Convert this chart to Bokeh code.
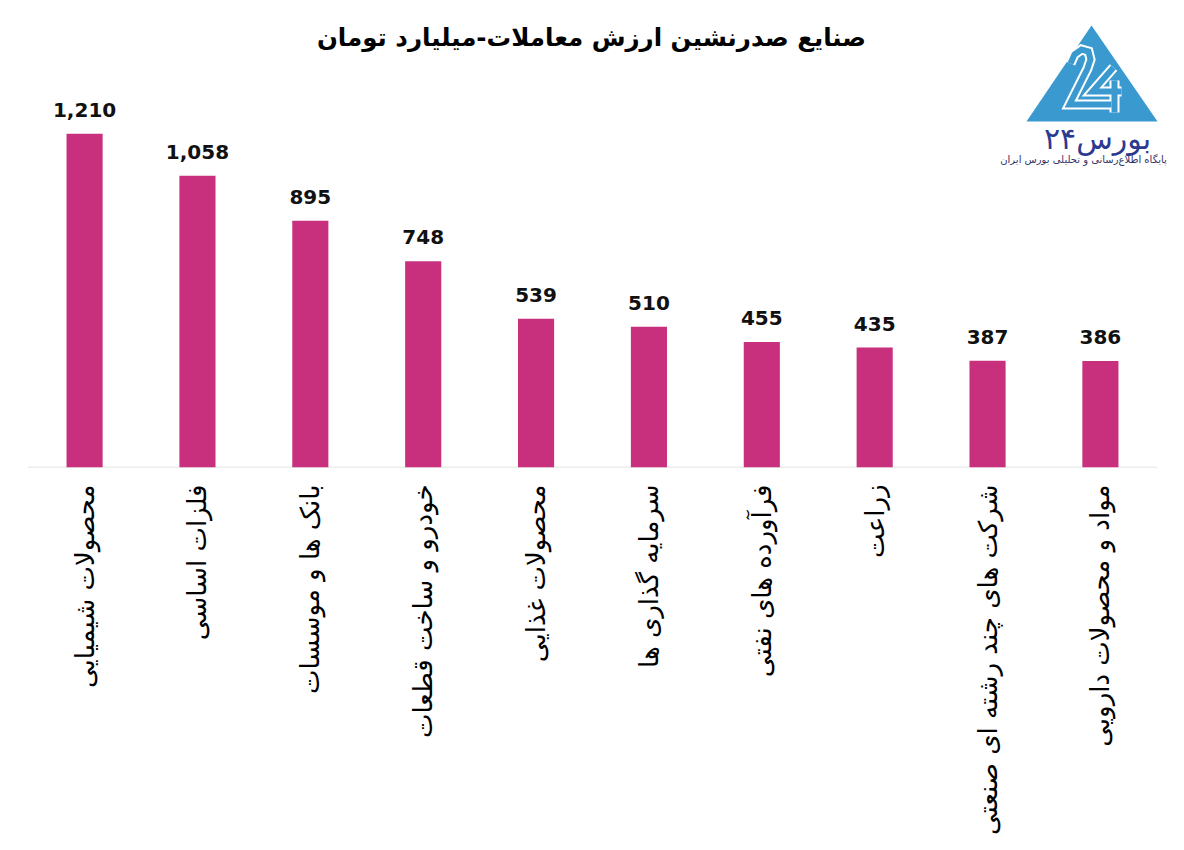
import math
from bokeh.plotting import figure
from bokeh.models import Label, ColumnDataSource, FactorRange, Range1d
from bokeh.core.properties import value
from bokeh.embed import file_html
from bokeh.resources import INLINE

# ---- data ----
categories = [
    "محصولات شیمیایی",
    "فلزات اساسی",
    "بانک ها و موسسات",
    "خودرو و ساخت قطعات",
    "محصولات غذایی",
    "سرمایه گذاری ها",
    "فرآورده های نفتی",
    "زراعت",
    "شرکت های چند رشته ای صنعتی",
    "مواد و محصولات دارویی",
]
values = [1210, 1058, 895, 748, 539, 510, 455, 435, 387, 386]
value_labels = [f"{v:,}" for v in values]
title_text = "صنایع صدرنشین ارزش معاملات-میلیارد تومان"
logo_name = "بورس۲۴"
logo_sub = "پایگاه اطلاع‌رسانی و تحلیلی بورس ایران"

FONT = "DejaVu Sans"
BAR = "#C8307E"
LOGO_BLUE = "#3A9AD0"

W, H = 1184, 850
frame_bottom = 467          # px
px_per_unit = 0.2758
y_end = frame_bottom / px_per_unit
pad = 0.245                 # factor units of padding on each side

p = figure(width=W, height=H,
           x_range=FactorRange(factors=categories, range_padding=pad, range_padding_units="absolute"),
           y_range=Range1d(0, y_end), output_backend="svg", toolbar_location=None,
           min_border_left=0, min_border_right=0, min_border_top=0,
           min_border_bottom=H - frame_bottom, y_axis_location=None)
p.outline_line_color = None
p.xgrid.grid_line_color = None
p.ygrid.grid_line_color = None
p.background_fill_color = "white"
p.border_fill_color = "white"

# baseline (category axis line across the categories only)
n = len(categories)
p.segment(x0=[0], y0=[0], x1=[n], y1=[0], line_color="#D9D9D9", line_width=1.5)

src = ColumnDataSource(dict(cat=categories, val=values, lab=value_labels))
p.vbar(x="cat", top="val", width=0.32, source=src, fill_color=BAR, line_color=None)
p.text(x="cat", y="val", text="lab", source=src, text_font=value(FONT),
       text_font_style="bold", text_font_size="20px", text_align="center",
       text_baseline="bottom", y_offset=-17, text_color="#111111")

ax = p.xaxis[0]
ax.axis_line_color = None
ax.major_tick_line_color = None
ax.minor_tick_line_color = None
ax.major_tick_out = 0
ax.major_tick_in = 0
ax.major_label_orientation = math.pi / 2
ax.major_label_standoff = 17
ax.major_label_text_font = FONT
ax.major_label_text_font_size = "26px"
ax.major_label_text_color = "#000000"

# helpers to place decoration (page px -> data coords)
step = W / (n + 2 * pad)
x0_page = pad * step
def dx(px):
    return (px - x0_page) / step
def dy(py):
    return (frame_bottom - py) / px_per_unit

p.add_layout(Label(x=dx(591), y=dy(37), text=title_text, text_font=FONT,
                   text_font_style="bold", text_font_size="24.5px", text_align="center",
                   text_baseline="middle", text_color="#000000"))

# logo: blue triangle with a "24" drawn as blue strokes outlined in white
tri_x = [dx(1091), dx(1026), dx(1157)]
tri_y = [dy(25), dy(121), dy(121)]
p.patch(tri_x, tri_y, fill_color=LOGO_BLUE, line_color=None)
strokes = [
    [(1070, 63), (1074, 54), (1081, 49), (1088, 51), (1090, 59), (1087, 68), (1069, 104), (1111, 104)],
    [(1113, 67), (1092, 91), (1121, 91)],
    [(1114, 80), (1114, 112)],
]
for pts in strokes:
    p.line([dx(a) for a, b in pts], [dy(b) for a, b in pts], line_color="white",
           line_width=10, line_join="miter")
for pts in strokes:
    p.line([dx(a) for a, b in pts], [dy(b) for a, b in pts], line_color=LOGO_BLUE,
           line_width=6, line_join="miter")

p.add_layout(Label(x=dx(1097), y=dy(138), text=logo_name, text_font=FONT,
                   text_font_size="30px", text_align="center", text_baseline="middle",
                   text_color="#2B3990"))
p.add_layout(Label(x=dx(1083), y=dy(159), text=logo_sub, text_font=FONT,
                   text_font_size="10px", text_align="center", text_baseline="middle",
                   text_color="#333366"))

open("out.html", "w").write(file_html(p, INLINE))
